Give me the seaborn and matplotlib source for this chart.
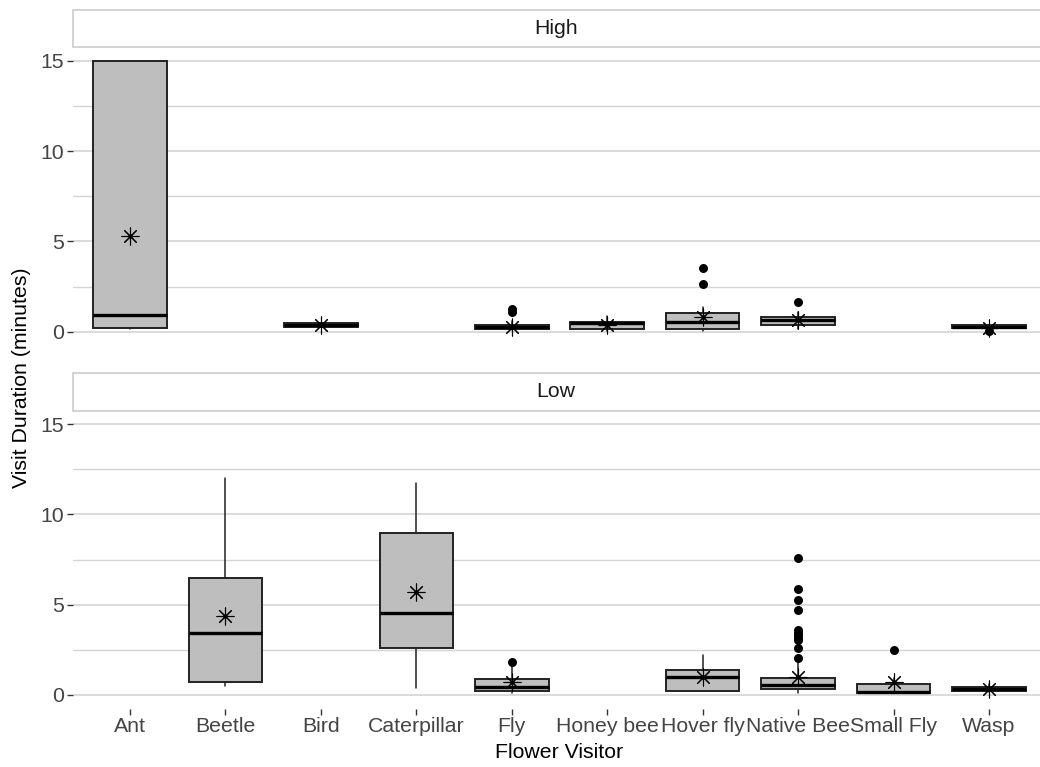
import matplotlib
matplotlib.use("Agg")
import matplotlib.pyplot as plt
from matplotlib.patches import Rectangle
import pandas as pd
import seaborn as sns

# Flower visitor groups along the x axis
visitors = ["Ant", "Beetle", "Bird", "Caterpillar", "Fly", "Honey bee",
            "Hover fly", "Native Bee", "Small Fly", "Wasp"]

# --- High treatment: box summaries (minutes) ---
high_visitor = ["Ant", "Bird", "Fly", "Honey bee", "Hover fly", "Native Bee", "Wasp"]
high_q1 = [0.24, 0.28, 0.18, 0.15, 0.15, 0.39, 0.22]
high_median = [0.94, 0.40, 0.30, 0.47, 0.55, 0.66, 0.30]
high_q3 = [15.0, 0.50, 0.40, 0.57, 1.03, 0.85, 0.36]
high_whislo = [0.15, 0.28, 0.10, 0.05, 0.05, 0.15, 0.15]
high_whishi = [15.0, 0.50, 0.60, 0.90, 1.40, 1.12, 0.40]
high_mean = [5.33, 0.37, 0.30, 0.39, 0.81, 0.65, 0.20]
high_out_visitor = ["Fly", "Fly", "Hover fly", "Hover fly", "Native Bee", "Wasp"]
high_out_value = [1.12, 1.26, 2.64, 3.56, 1.64, 0.05]

# --- Low treatment: box summaries (minutes) ---
low_visitor = ["Beetle", "Caterpillar", "Fly", "Hover fly", "Native Bee", "Small Fly", "Wasp"]
low_q1 = [0.70, 2.62, 0.22, 0.22, 0.31, 0.13, 0.22]
low_median = [3.45, 4.52, 0.43, 0.98, 0.55, 0.16, 0.35]
low_q3 = [6.49, 8.95, 0.87, 1.38, 0.92, 0.61, 0.46]
low_whislo = [0.52, 0.37, 0.10, 0.22, 0.13, 0.10, 0.15]
low_whishi = [12.0, 11.71, 1.72, 2.21, 1.84, 0.95, 0.60]
low_mean = [4.39, 5.72, 0.70, 1.00, 1.01, 0.74, 0.33]
low_out_visitor = ["Fly"] + ["Native Bee"] * 11 + ["Small Fly"]
low_out_value = [1.85,
                 7.56, 5.85, 5.24, 4.70, 3.60, 3.45, 3.30, 3.15, 3.04, 2.58, 2.03,
                 2.49]

sns.set_theme(style="white")
plt.rcParams["font.family"] = ["Liberation Sans", "DejaVu Sans"]

FS = 15.3
TICK_COL = "#444444"
GRID_COL = "#D4D4D4"
BOX_FILL = "#BEBEBE"

W, H = 1040, 767
fig = plt.figure(figsize=(W / 100, H / 100), dpi=100)

left_px, right_px = 72.7, 1046.3
panels_px = [(47.0, 345.5), (410.5, 708.5)]
strip_h_px = 37.5


def axes_rect(top, bottom):
    return [left_px / W, 1 - bottom / H, (right_px - left_px) / W, (bottom - top) / H]


ax_high = fig.add_axes(axes_rect(*panels_px[0]))
ax_low = fig.add_axes(axes_rect(*panels_px[1]))


def draw_panel(ax, title, vis, q1, med, q3, lo, hi, mean, out_vis, out_val,
               panel_h_px, show_x):
    pos = [visitors.index(v) for v in vis]
    stats = [dict(med=m, q1=a, q3=b, whislo=l, whishi=h, fliers=[])
             for a, m, b, l, h in zip(q1, med, q3, lo, hi)]
    ax.bxp(stats, positions=pos, widths=0.77, patch_artist=True,
           showfliers=False, showcaps=False,
           boxprops=dict(facecolor=BOX_FILL, edgecolor="#222222", linewidth=1.4),
           medianprops=dict(color="black", linewidth=2.4),
           whiskerprops=dict(color="#222222", linewidth=1.1),
           zorder=2)

    # outlying observations
    out_df = pd.DataFrame({"pos": [visitors.index(v) for v in out_vis],
                           "value": out_val})
    sns.scatterplot(data=out_df, x="pos", y="value", ax=ax, color="black",
                    s=42, linewidth=0, zorder=4, legend=False)

    # group means as asterisks
    mean_df = pd.DataFrame({"pos": pos, "value": mean})
    sns.scatterplot(data=mean_df, x="pos", y="value", ax=ax, marker=(8, 2, 0),
                    color="black", edgecolor="black", s=150, linewidth=0.8,
                    zorder=5, legend=False)
    sns.scatterplot(data=mean_df, x="pos", y="value", ax=ax, color="black",
                    s=9, linewidth=0, zorder=6, legend=False)

    ax.set_xlim(-0.6, len(visitors) - 0.4)
    ax.set_ylim(-0.75, 15.75)
    ax.set_yticks([0, 5, 10, 15])
    ax.set_yticks([2.5, 7.5, 12.5], minor=True)
    ax.set_yticklabels(["0", "5", "10", "15"])
    ax.grid(False)
    ax.grid(axis="y", which="major", color=GRID_COL, linewidth=1.2)
    ax.grid(axis="y", which="minor", color=GRID_COL, linewidth=1.0)
    ax.set_axisbelow(True)
    for s in ax.spines.values():
        s.set_visible(False)
    ax.tick_params(axis="y", which="major", length=4, width=1.0, color="#333333",
                   labelsize=FS, labelcolor=TICK_COL, pad=2, left=True)
    ax.tick_params(axis="y", which="minor", length=0)
    ax.set_xticks(range(len(visitors)))
    if show_x:
        ax.set_xticklabels(visitors)
        ax.tick_params(axis="x", length=4, width=1.0, color="#333333",
                       labelsize=FS, labelcolor=TICK_COL, pad=2, bottom=True)
    else:
        ax.set_xticklabels([])
        ax.tick_params(axis="x", length=0)
    ax.set_xlabel("")
    ax.set_ylabel("")

    # facet strip above the panel
    sh = strip_h_px / panel_h_px
    ax.add_patch(Rectangle((0, 1), 1, sh, transform=ax.transAxes,
                           facecolor="white", edgecolor="#C8C8C8",
                           linewidth=1.1, clip_on=False, zorder=1))
    ax.text(0.4964, 1 + sh / 2, title, transform=ax.transAxes, ha="center",
            va="center", fontsize=FS, color="#1A1A1A")


draw_panel(ax_high, "High", high_visitor, high_q1, high_median, high_q3,
           high_whislo, high_whishi, high_mean, high_out_visitor, high_out_value,
           panels_px[0][1] - panels_px[0][0], show_x=False)
draw_panel(ax_low, "Low", low_visitor, low_q1, low_median, low_q3,
           low_whislo, low_whishi, low_mean, low_out_visitor, low_out_value,
           panels_px[1][1] - panels_px[1][0], show_x=True)

fig.text(22 / W, 1 - 378 / H, "Visit Duration (minutes)", rotation=90,
         ha="center", va="center", fontsize=FS, color="black")
fig.text(559 / W, 1 - 753 / H, "Flower Visitor", ha="center", va="center",
         fontsize=FS, color="black")

fig.savefig("out.png", dpi=100, facecolor="white")
